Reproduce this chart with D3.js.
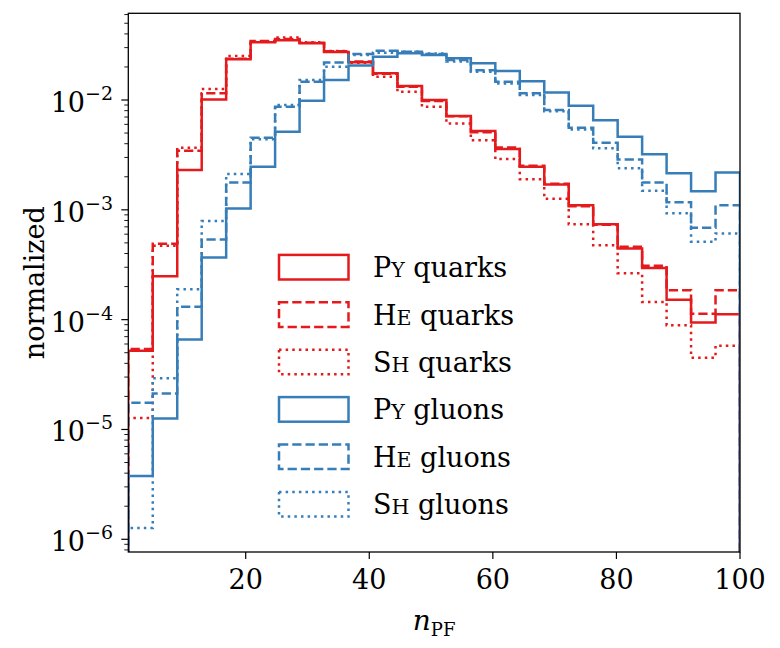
<!DOCTYPE html>
<html>
<head>
<meta charset="utf-8">
<script src="https://cdn.jsdelivr.net/npm/d3@7"></script>
<style>
  body { margin: 0; background: #fff; }
  svg { display: block; }
  text { font-family: "DejaVu Serif", serif; fill: #000; }
</style>
</head>
<body>
<svg id="chart" width="780" height="648"></svg>
<script>
// ---- data ----
const binEdges = [1, 4.96, 8.92, 12.88, 16.84, 20.8, 24.76, 28.72, 32.68, 36.64, 40.6, 44.56, 48.52,
  52.48, 56.44, 60.4, 64.36, 68.32, 72.28, 76.24, 80.2, 84.16, 88.12, 92.08, 96.04, 100];

const pyQuarks = [5.2e-5, 2.49e-4, 2.30e-3, 1.01e-2, 0.0235, 0.0336, 0.0351, 0.0328, 0.0274, 0.0221,
  0.0175, 0.0134, 0.0100, 0.00715, 0.00522, 0.00358, 0.00247, 0.00170, 0.00110, 7.38e-4,
  4.45e-4, 2.95e-4, 1.52e-4, 9.4e-5, 1.12e-4];
const heQuarks = [5.4e-5, 4.9e-4, 3.45e-3, 0.0115, 0.0238, 0.0345, 0.0360, 0.0332, 0.0278, 0.0224,
  0.0173, 0.0132, 0.0098, 0.0071, 0.0051, 0.0037, 0.00252, 0.00173, 0.00108, 7.3e-4,
  4.6e-4, 3.1e-4, 1.85e-4, 1.13e-4, 1.85e-4];
const shQuarks = [1.27e-5, 4.7e-4, 3.68e-3, 0.0126, 0.0252, 0.0340, 0.0370, 0.0335, 0.0280, 0.0218,
  0.0163, 0.0119, 0.0087, 0.0061, 0.0043, 0.0029, 0.0019, 0.00126, 7.4e-4, 4.75e-4,
  2.65e-4, 1.45e-4, 8.9e-5, 4.5e-5, 5.8e-5];
const pyGluons = [3.77e-6, 1.26e-5, 6.6e-5, 3.69e-4, 1.03e-3, 2.47e-3, 5.15e-3, 9.86e-3, 0.0152, 0.0206,
  0.0248, 0.0266, 0.0257, 0.0240, 0.0216, 0.0184, 0.0148, 0.0117, 8.87e-3, 6.53e-3,
  4.63e-3, 3.2e-3, 2.15e-3, 1.48e-3, 2.19e-3];
const heGluons = [1.75e-5, 2.13e-5, 1.31e-4, 5.38e-4, 1.77e-3, 4.54e-3, 8.7e-3, 0.0147, 0.0219, 0.0262,
  0.0281, 0.0275, 0.0262, 0.0231, 0.0187, 0.0147, 0.0115, 8.1e-3, 5.6e-3, 4.08e-3,
  2.88e-3, 1.77e-3, 1.17e-3, 6.87e-4, 1.1e-3];
const shGluons = [1.27e-6, 2.92e-5, 1.89e-4, 7.9e-4, 2.12e-3, 4.4e-3, 9.0e-3, 0.0152, 0.0201, 0.0257,
  0.0270, 0.0275, 0.0265, 0.0224, 0.0181, 0.0141, 0.0111, 7.9e-3, 5.4e-3, 3.63e-3,
  2.39e-3, 1.49e-3, 9.3e-4, 5.13e-4, 6.1e-4];

const seriesNames = [["P","Y"," quarks"], ["H","E"," quarks"], ["S","H"," quarks"],
                     ["P","Y"," gluons"], ["H","E"," gluons"], ["S","H"," gluons"]];
const xTicks = [20, 40, 60, 80, 100];
const yTickExps = [-6, -5, -4, -3, -2];

// ---- styles ----
const RED = "#e41a1c", BLUE = "#377eb8";
const LW = 2.5;
const DASH = { solid: null, dashed: `${3.7*LW},${1.6*LW}`, dotted: `${1*LW},${1.65*LW}` };
const series = [
  { vals: pyQuarks, color: RED,  dash: DASH.solid },
  { vals: heQuarks, color: RED,  dash: DASH.dashed },
  { vals: shQuarks, color: RED,  dash: DASH.dotted },
  { vals: pyGluons, color: BLUE, dash: DASH.solid },
  { vals: heGluons, color: BLUE, dash: DASH.dashed },
  { vals: shGluons, color: BLUE, dash: DASH.dotted },
];

// ---- layout ----
const L = 128.3, R = 740, T = 13.3, B = 552;
const svg = d3.select("#chart");
const x = d3.scaleLinear().domain([1, 100]).range([L, R]);
const y = d3.scaleLog().domain([7.66e-7, 0.0616]).range([B, T]);

svg.append("defs").append("clipPath").attr("id", "plotclip")
  .append("rect").attr("x", L).attr("y", T).attr("width", R - L).attr("height", B - T);

const plot = svg.append("g").attr("clip-path", "url(#plotclip)");

function stepPath(vals) {
  const pts = [];
  pts.push([x(binEdges[0]), B + 20]);
  vals.forEach((v, i) => {
    pts.push([x(binEdges[i]), y(v)]);
    pts.push([x(binEdges[i + 1]), y(v)]);
  });
  pts.push([x(binEdges[binEdges.length - 1]), B + 20]);
  return d3.line()(pts);
}

series.forEach(s => {
  plot.append("path")
    .attr("d", stepPath(s.vals))
    .attr("fill", "none")
    .attr("stroke", s.color)
    .attr("stroke-width", LW)
    .attr("stroke-linejoin", "miter")
    .attr("stroke-dasharray", s.dash);
});

// ---- axes ----
const axes = svg.append("g");
// x ticks
xTicks.forEach(t => {
  axes.append("line").attr("x1", x(t)).attr("x2", x(t)).attr("y1", B).attr("y2", B + 7)
    .attr("stroke", "#000").attr("stroke-width", 1.2);
  axes.append("text").attr("x", x(t)).attr("y", 589).attr("text-anchor", "middle")
    .attr("font-size", 27).text(t);
});
// y ticks (major + minor)
const [ymin, ymax] = y.domain();
for (let e = -7; e <= -1; e++) {
  for (let m = 1; m <= 9; m++) {
    const v = m * Math.pow(10, e);
    if (v < ymin || v > ymax) continue;
    const major = m === 1;
    axes.append("line").attr("x1", L).attr("x2", L - (major ? 7 : 4))
      .attr("y1", y(v)).attr("y2", y(v))
      .attr("stroke", "#000").attr("stroke-width", major ? 1.2 : 0.9);
  }
}
yTickExps.forEach(e => {
  const yy = y(Math.pow(10, e));
  const t = axes.append("text").attr("x", 113).attr("y", yy + 12)
    .attr("text-anchor", "end").attr("font-size", 27);
  t.append("tspan").text("10");
  t.append("tspan").attr("font-size", 19).attr("dy", -12).text("\u2212" + Math.abs(e));
});

// spines
axes.append("rect").attr("x", L).attr("y", T).attr("width", R - L).attr("height", B - T)
  .attr("fill", "none").attr("stroke", "#000").attr("stroke-width", 1.3);

// axis labels
const xl = svg.append("text").attr("x", x(50.5)).attr("y", 630).attr("text-anchor", "middle");
xl.append("tspan").attr("font-size", 28).attr("font-style", "italic").text("n");
xl.append("tspan").attr("font-size", 18).attr("dy", 6).text("PF");

svg.append("text").attr("transform", `translate(44,${(T + B) / 2}) rotate(-90)`)
  .attr("text-anchor", "middle").attr("font-size", 27).text("normalized");

// ---- legend ----
const leg = svg.append("g");
series.forEach((s, i) => {
  const cy = 267.2 + i * 47.4;
  leg.append("rect").attr("x", 279).attr("y", cy - 12.3).attr("width", 69.5).attr("height", 24.6)
    .attr("fill", "none").attr("stroke", s.color).attr("stroke-width", LW)
    .attr("stroke-dasharray", s.dash);
  const n = seriesNames[i];
  const t = leg.append("text").attr("x", 373).attr("y", cy + 10).attr("font-size", 27);
  t.append("tspan").text(n[0]);
  t.append("tspan").attr("font-size", 20.5).text(n[1]);
  t.append("tspan").text(n[2]);
});
</script>
</body>
</html>
